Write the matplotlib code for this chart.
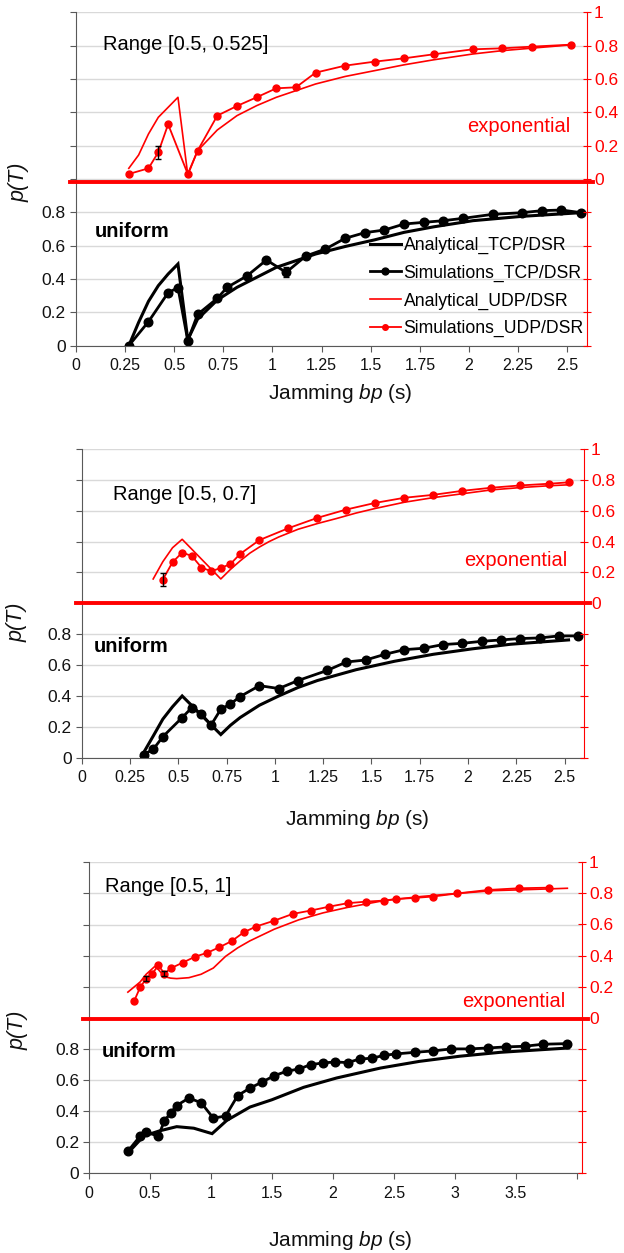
import matplotlib
matplotlib.use('Agg')
import matplotlib.pyplot as plt

plt.rcParams['font.family'] = ['Liberation Sans', 'DejaVu Sans']
plt.rcParams['mathtext.fontset'] = 'custom'
plt.rcParams['mathtext.rm'] = 'Liberation Sans'
plt.rcParams['mathtext.it'] = 'Liberation Sans:italic'

# ---------------- data ----------------
legend_labels = ['Analytical_TCP/DSR', 'Simulations_TCP/DSR',
                 'Analytical_UDP/DSR', 'Simulations_UDP/DSR']
range_titles = ['Range [0.5, 0.525]', 'Range [0.5, 0.7]', 'Range [0.5, 1]']

# Panel 1 : Range [0.5, 0.525]
p1_tcp_ana_x = [0.27, 0.32, 0.37, 0.42, 0.47, 0.52, 0.57, 0.62, 0.72, 0.82, 0.92, 1.02,
                1.12, 1.22, 1.37, 1.52, 1.67, 1.82, 2.02, 2.27, 2.57]
p1_tcp_ana_y = [0.0, 0.14, 0.266, 0.36, 0.43, 0.49, 0.036, 0.16, 0.274, 0.35, 0.41, 0.47,
                0.51, 0.55, 0.595, 0.635, 0.68, 0.713, 0.75, 0.776, 0.798]
p1_tcp_sim_x = [0.27, 0.37, 0.47, 0.52, 0.57, 0.62, 0.72, 0.77, 0.87, 0.97, 1.07, 1.17,
                1.27, 1.37, 1.47, 1.57, 1.67, 1.77, 1.87, 1.97, 2.12, 2.27, 2.37, 2.47, 2.57]
p1_tcp_sim_y = [0.0, 0.144, 0.318, 0.348, 0.03, 0.188, 0.284, 0.35, 0.418, 0.514, 0.44, 0.538,
                0.58, 0.644, 0.678, 0.694, 0.73, 0.74, 0.75, 0.764, 0.788, 0.798, 0.81, 0.814, 0.798]
p1_udp_ana_x = [0.27, 0.32, 0.37, 0.42, 0.47, 0.52, 0.57, 0.62, 0.72, 0.82, 0.92, 1.02,
                1.12, 1.22, 1.37, 1.52, 1.67, 1.82, 2.02, 2.17, 2.32, 2.52]
p1_udp_ana_y = [0.064, 0.144, 0.27, 0.37, 0.43, 0.49, 0.024, 0.17, 0.294, 0.38, 0.44, 0.49,
                0.53, 0.57, 0.615, 0.65, 0.685, 0.715, 0.75, 0.77, 0.785, 0.805]
p1_udp_sim_x = [0.27, 0.37, 0.42, 0.47, 0.57, 0.62, 0.72, 0.82, 0.92, 1.02, 1.12, 1.22,
                1.37, 1.52, 1.67, 1.82, 2.02, 2.17, 2.32, 2.52]
p1_udp_sim_y = [0.03, 0.064, 0.16, 0.328, 0.03, 0.17, 0.38, 0.438, 0.49, 0.544, 0.55, 0.638,
                0.68, 0.704, 0.724, 0.748, 0.778, 0.784, 0.794, 0.806]
p1_err_tcp = ([1.07], [0.44], [0.03])
p1_err_udp = ([0.42], [0.16], [0.04])

# Panel 2 : Range [0.5, 0.7]
p2_tcp_ana_x = [0.31, 0.37, 0.42, 0.47, 0.52, 0.72, 0.77, 0.82, 0.92, 1.02, 1.12, 1.22,
                1.42, 1.62, 1.82, 2.02, 2.22, 2.52]
p2_tcp_ana_y = [0.01, 0.14, 0.25, 0.33, 0.40, 0.15, 0.21, 0.26, 0.34, 0.40, 0.455, 0.50,
                0.57, 0.625, 0.67, 0.705, 0.735, 0.763]
p2_tcp_sim_x = [0.32, 0.37, 0.42, 0.52, 0.57, 0.62, 0.67, 0.72, 0.77, 0.82, 0.92, 1.02,
                1.12, 1.27, 1.37, 1.47, 1.57, 1.67, 1.77, 1.87, 1.97, 2.07, 2.17, 2.27,
                2.37, 2.47, 2.57]
p2_tcp_sim_y = [0.02, 0.054, 0.136, 0.26, 0.324, 0.281, 0.212, 0.314, 0.348, 0.396, 0.467, 0.448,
                0.50, 0.565, 0.62, 0.633, 0.67, 0.70, 0.709, 0.733, 0.741, 0.754, 0.763, 0.772,
                0.776, 0.789, 0.789]
p2_udp_ana_x = [0.37, 0.42, 0.47, 0.52, 0.72, 0.77, 0.82, 0.87, 0.92, 0.97, 1.02, 1.12,
                1.22, 1.32, 1.42, 1.52, 1.67, 1.82, 1.97, 2.12, 2.27, 2.42, 2.52]
p2_udp_ana_y = [0.158, 0.27, 0.36, 0.415, 0.158, 0.22, 0.275, 0.325, 0.365, 0.40, 0.43, 0.48,
                0.517, 0.55, 0.585, 0.615, 0.655, 0.685, 0.71, 0.735, 0.75, 0.762, 0.768]
p2_udp_sim_x = [0.42, 0.47, 0.52, 0.57, 0.62, 0.67, 0.72, 0.77, 0.82, 0.92, 1.07, 1.22,
                1.37, 1.52, 1.67, 1.82, 1.97, 2.12, 2.27, 2.42, 2.52]
p2_udp_sim_y = [0.154, 0.266, 0.329, 0.307, 0.232, 0.208, 0.229, 0.255, 0.32, 0.41, 0.487, 0.554,
                0.608, 0.651, 0.684, 0.703, 0.729, 0.749, 0.764, 0.775, 0.784]
p2_err_tcp = ([], [], [])
p2_err_udp = ([0.42], [0.154], [0.04])

# Panel 3 : Range [0.5, 1]
p3_tcp_ana_x = [0.32, 0.45, 0.58, 0.72, 0.86, 1.01, 1.13, 1.32, 1.5, 1.76, 2.03, 2.39,
                2.71, 3.04, 3.37, 3.93]
p3_tcp_ana_y = [0.13, 0.24, 0.273, 0.30, 0.29, 0.255, 0.34, 0.426, 0.473, 0.553, 0.613, 0.677,
                0.72, 0.753, 0.778, 0.806]
p3_tcp_sim_x = [0.32, 0.42, 0.47, 0.57, 0.62, 0.67, 0.72, 0.82, 0.92, 1.02, 1.12, 1.22,
                1.32, 1.42, 1.52, 1.62, 1.72, 1.82, 1.92, 2.02, 2.12, 2.22, 2.32, 2.42,
                2.52, 2.67, 2.82, 2.97, 3.12, 3.27, 3.42, 3.57, 3.72, 3.92]
p3_tcp_sim_y = [0.142, 0.239, 0.264, 0.239, 0.339, 0.387, 0.436, 0.484, 0.454, 0.355, 0.368, 0.50,
                0.548, 0.587, 0.628, 0.656, 0.671, 0.699, 0.71, 0.716, 0.712, 0.735, 0.74, 0.759,
                0.768, 0.778, 0.787, 0.80, 0.80, 0.806, 0.813, 0.817, 0.83, 0.834]
p3_udp_ana_x = [0.32, 0.42, 0.47, 0.54, 0.57, 0.62, 0.67, 0.72, 0.82, 0.92, 1.02, 1.12,
                1.22, 1.32, 1.52, 1.72, 1.92, 2.12, 2.42, 2.72, 3.02, 3.32, 3.62, 3.92]
p3_udp_ana_y = [0.165, 0.23, 0.28, 0.33, 0.31, 0.265, 0.255, 0.252, 0.258, 0.28, 0.32, 0.395,
                0.45, 0.495, 0.57, 0.63, 0.675, 0.71, 0.754, 0.78, 0.80, 0.818, 0.825, 0.833]
p3_udp_sim_x = [0.37, 0.42, 0.47, 0.52, 0.57, 0.62, 0.67, 0.77, 0.87, 0.97, 1.07, 1.17,
                1.27, 1.37, 1.52, 1.67, 1.82, 1.97, 2.12, 2.27, 2.42, 2.52, 2.67, 2.82,
                3.02, 3.27, 3.52, 3.77]
p3_udp_sim_y = [0.105, 0.195, 0.252, 0.284, 0.337, 0.284, 0.318, 0.355, 0.393, 0.418, 0.454, 0.493,
                0.55, 0.587, 0.625, 0.668, 0.69, 0.715, 0.737, 0.747, 0.754, 0.764, 0.771, 0.78,
                0.80, 0.822, 0.833, 0.837]
p3_err_tcp = ([], [], [])
p3_err_udp = ([0.47, 0.62], [0.252, 0.284], [0.015, 0.015])

x_ticks_short = [0, 0.25, 0.5, 0.75, 1, 1.25, 1.5, 1.75, 2, 2.25, 2.5]
x_ticks_long = [0, 0.5, 1, 1.5, 2, 2.5, 3, 3.5, 4]
x_labels_short = ['0', '0.25', '0.5', '0.75', '1', '1.25', '1.5', '1.75', '2', '2.25', '2.5']
x_labels_long = ['0', '0.5', '1', '1.5', '2', '2.5', '3', '3.5', '']
left_ticks = [0, 0.2, 0.4, 0.6, 0.8, 1.0, 1.2, 1.4, 1.6, 1.8, 2.0]
left_labels = ['0', '0.2', '0.4', '0.6', '0.8', '', '', '', '', '', '']
right_ticks = [-1.0, -0.8, -0.6, -0.4, -0.2, 0, 0.2, 0.4, 0.6, 0.8, 1.0]
right_labels = ['', '', '', '', '', '0', '0.2', '0.4', '0.6', '0.8', '1']

RED = '#ff0000'
GRID = '#d9d9d9'
SPINE = '#595959'
TXT = '#111111'

# -------------- layout (figure fractions) --------------
W, H = 624.0, 1253.0
def rect(l, r, b, t):
    return [l / W, 1 - b / H, (r - l) / W, (b - t) / H]

panels = [
    dict(rect=rect(75.7, 587, 345.7, 12.3), xmax=2.6, xt=x_ticks_short, xl=x_labels_short,
         tcp_a=(p1_tcp_ana_x, p1_tcp_ana_y), tcp_s=(p1_tcp_sim_x, p1_tcp_sim_y),
         udp_a=(p1_udp_ana_x, p1_udp_ana_y), udp_s=(p1_udp_sim_x, p1_udp_sim_y),
         err_t=p1_err_tcp, err_u=p1_err_udp, redline=0.985, title=range_titles[0],
         title_pos=(0.053, 0.902), expo_pos=(0.967, 0.656), unif_pos=(0.038, 0.342),
         ylab=(-0.09, 0.49), xlab=(0.517, -0.11), legend=True),
    dict(rect=rect(81.7, 584, 757.7, 449.0), xmax=2.6, xt=x_ticks_short, xl=x_labels_short,
         tcp_a=(p2_tcp_ana_x, p2_tcp_ana_y), tcp_s=(p2_tcp_sim_x, p2_tcp_sim_y),
         udp_a=(p2_udp_ana_x, p2_udp_ana_y), udp_s=(p2_udp_sim_x, p2_udp_sim_y),
         err_t=p2_err_tcp, err_u=p2_err_udp, redline=1.0, title=range_titles[1],
         title_pos=(0.0615, 0.851), expo_pos=(0.966, 0.640), unif_pos=(0.0245, 0.36),
         ylab=(-0.107, 0.44), xlab=(0.548, -0.163), legend=False),
    dict(rect=rect(88.8, 582, 1173.3, 862.3), xmax=4.04, xt=x_ticks_long, xl=x_labels_long,
         tcp_a=(p3_tcp_ana_x, p3_tcp_ana_y), tcp_s=(p3_tcp_sim_x, p3_tcp_sim_y),
         udp_a=(p3_udp_ana_x, p3_udp_ana_y), udp_s=(p3_udp_sim_x, p3_udp_sim_y),
         err_t=p3_err_tcp, err_u=p3_err_udp, redline=0.995, title=range_titles[2],
         title_pos=(0.033, 0.9216), expo_pos=(0.9655, 0.552), unif_pos=(0.026, 0.391),
         ylab=(-0.123, 0.46), xlab=(0.509, -0.18), legend=False),
]

fig = plt.figure(figsize=(6.24, 12.53), dpi=100)

for p in panels:
    ax = fig.add_axes(p['rect'])
    ax2 = ax.twinx()
    ax.set_xlim(0, p['xmax'])
    ax.set_ylim(0, 2.0)
    ax2.set_ylim(-1.0, 1.0)

    ax.set_axisbelow(True)
    ax.set_yticks(left_ticks)
    ax.set_yticklabels(left_labels)
    ax.yaxis.grid(True, color=GRID, lw=1.0)
    ax.set_xticks(p['xt'])
    ax.set_xticklabels(p['xl'])
    ax2.set_yticks(right_ticks)
    ax2.set_yticklabels(right_labels)

    for s in ['top', 'right']:
        ax.spines[s].set_visible(False)
    for s in ['top', 'left', 'bottom']:
        ax2.spines[s].set_visible(False)
    ax.spines['left'].set_color(SPINE)
    ax.spines['bottom'].set_color(SPINE)
    ax2.spines['right'].set_color(RED)

    ax.tick_params(axis='y', direction='out', length=4, color=SPINE, labelsize=12.5,
                   labelcolor=TXT, pad=3)
    ax.tick_params(axis='x', direction='out', length=4, color=SPINE, labelsize=11.5,
                   labelcolor=TXT, pad=5)
    ax2.tick_params(axis='y', direction='inout', length=6, color=RED, labelsize=12.5,
                    labelcolor=RED, pad=2)

    # black (uniform) series
    h1, = ax.plot(*p['tcp_a'], color='black', lw=2.2, solid_joinstyle='miter')
    h2, = ax.plot(*p['tcp_s'], color='black', lw=2.0, marker='o', ms=6.2)
    if p['err_t'][0]:
        ax.errorbar(p['err_t'][0], p['err_t'][1], yerr=p['err_t'][2], fmt='none',
                    ecolor='black', elinewidth=1, capsize=2.5, capthick=1)

    # red (exponential) series
    h3, = ax2.plot(*p['udp_a'], color=RED, lw=1.2)
    h4, = ax2.plot(*p['udp_s'], color=RED, lw=1.3, marker='o', ms=5)
    if p['err_u'][0]:
        ax2.errorbar(p['err_u'][0], p['err_u'][1], yerr=p['err_u'][2], fmt='none',
                     ecolor='black', elinewidth=1, capsize=2.5, capthick=1, zorder=5)

    # thick red separator
    ax2.plot([-0.012, 1.012], [p['redline'] - 1.0] * 2, color=RED, lw=2.8,
             transform=ax2.get_yaxis_transform(), clip_on=False, zorder=6)

    # texts
    ax2.text(*p['title_pos'], p['title'], transform=ax.transAxes, fontsize=14.5,
             ha='left', va='center', color='black')
    ax2.text(*p['expo_pos'], 'exponential', transform=ax.transAxes, fontsize=14.5,
             ha='right', va='center', color=RED)
    ax2.text(*p['unif_pos'], 'uniform', transform=ax.transAxes, fontsize=14.5,
             ha='left', va='center', color='black', fontweight='bold')

    ax.set_ylabel('p(T)', fontsize=15.5, fontstyle='italic', color=TXT)
    ax.yaxis.set_label_coords(*p['ylab'])
    ax.set_xlabel(r'Jamming $bp$ (s)', fontsize=15, color=TXT)
    ax.xaxis.set_label_coords(*p['xlab'])
    ax.xaxis.label.set_va('top')

    if p['legend']:
        ax2.legend([h1, h2, h3, h4], legend_labels, loc='center left',
                   bbox_to_anchor=(0.5756, 0.176), frameon=False, fontsize=12.7,
                   handlelength=1.75, handletextpad=0.15, labelspacing=0.6,
                   borderpad=0, borderaxespad=0, markerscale=0.8)

fig.savefig('out.png', dpi=100)
